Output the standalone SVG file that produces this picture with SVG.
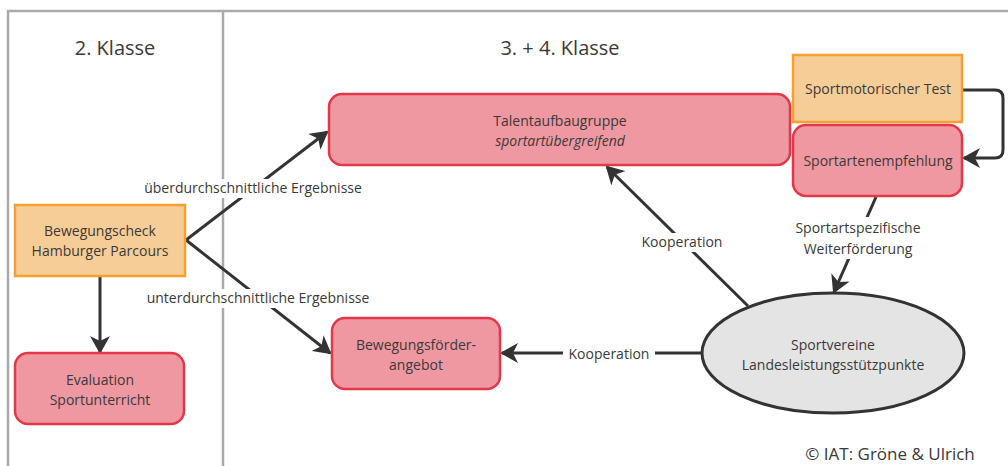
<svg xmlns="http://www.w3.org/2000/svg" width="1008" height="466" viewBox="0 0 1008 466">
<defs>
<marker id="ah" markerWidth="18" markerHeight="20" refX="16" refY="10" orient="auto" markerUnits="userSpaceOnUse" viewBox="0 0 18 20">
<path d="M0,0 L18,10 L0,20 L5,10 Z" fill="#333"/>
</marker>
<style>
text{font-family:"Open Sans","Noto Sans",sans-serif;fill:#3a3a3a}
.t{font-size:14px;text-anchor:middle}
.lbl{font-size:14px;text-anchor:middle}
.h{font-size:20px;text-anchor:middle}
.o{fill:#f7cd97;stroke:#f5a030;stroke-width:2.5}
.r{fill:#ef98a1;stroke:#e2384a;stroke-width:2.5}
.c{fill:none;stroke:#333;stroke-width:3}
.bg{fill:#fff}
.frame{fill:none;stroke:#aaa;stroke-width:2.5}
</style>
</defs>
<rect width="1008" height="466" fill="#fff"/>
<g id="frame">
<path class="frame" d="M8,466 V11 H1008"/>
<line class="frame" x1="223" y1="11" x2="223" y2="466"/>
<text class="h" x="115" y="55">2. Klasse</text>
<text class="h" x="560" y="55">3. + 4. Klasse</text>
</g>
<g id="connectors">
<line class="c" x1="186" y1="240" x2="327" y2="132" marker-end="url(#ah)"/>
<line class="c" x1="186" y1="240" x2="330" y2="353" marker-end="url(#ah)"/>
<line class="c" x1="100" y1="277" x2="100" y2="352" marker-end="url(#ah)"/>
<line class="c" x1="748" y1="306" x2="607" y2="167" marker-end="url(#ah)"/>
<line class="c" x1="702" y1="353" x2="502" y2="353" marker-end="url(#ah)"/>
<line class="c" x1="876" y1="197" x2="834" y2="292" marker-end="url(#ah)"/>
<path class="c" d="M963,90 H995 Q1003,90 1003,98 V150 Q1003,158 995,158 H964" marker-end="url(#ah)"/>
<rect class="bg" x="140" y="179" width="226" height="19"/>
<text class="lbl" x="253" y="193">überdurchschnittliche Ergebnisse</text>
<rect class="bg" x="142" y="289" width="232" height="19"/>
<text class="lbl" x="258" y="303">unterdurchschnittliche Ergebnisse</text>
<rect class="bg" x="636" y="233" width="92" height="19"/>
<text class="lbl" x="682" y="247">Kooperation</text>
<rect class="bg" x="563" y="345" width="92" height="19"/>
<text class="lbl" x="609" y="359">Kooperation</text>
<rect class="bg" x="788" y="217" width="140" height="42"/>
<text class="lbl" x="858" y="233">Sportartspezifische</text>
<text class="lbl" x="858" y="254">Weiterförderung</text>
</g>
<g id="bewegungscheck">
<rect class="o" x="15" y="205" width="170" height="71"/>
<text class="t" x="100" y="236">Bewegungscheck</text>
<text class="t" x="100" y="256">Hamburger Parcours</text>
</g>
<g id="evaluation">
<rect class="r" x="15" y="353" width="169" height="71" rx="13"/>
<text class="t" x="100" y="385">Evaluation</text>
<text class="t" x="100" y="405">Sportunterricht</text>
</g>
<g id="talent">
<rect class="r" x="329" y="94" width="461" height="71" rx="13"/>
<text class="t" x="560" y="126">Talentaufbaugruppe</text>
<text class="t" x="560" y="146" font-style="italic">sportartübergreifend</text>
</g>
<g id="sporttest">
<rect class="o" x="793" y="55" width="169" height="67"/>
<text class="t" x="878" y="94">Sportmotorischer Test</text>
</g>
<g id="empfehlung">
<rect class="r" x="793" y="125" width="169" height="71" rx="13"/>
<text class="t" x="878" y="166">Sportartenempfehlung</text>
</g>
<g id="foerder">
<rect class="r" x="332" y="318" width="168" height="71" rx="13"/>
<text class="t" x="416" y="350">Bewegungsförder-</text>
<text class="t" x="416" y="370">angebot</text>
</g>
<g id="vereine">
<ellipse cx="833" cy="353" rx="131" ry="60" fill="#e4e4e4" stroke="#333" stroke-width="3"/>
<text class="t" x="833" y="350">Sportvereine</text>
<text class="t" x="833" y="370">Landesleistungsstützpunkte</text>
</g>
<text x="890" y="460" font-size="17" text-anchor="middle">© IAT: Gröne &amp; Ulrich</text>
</svg>
